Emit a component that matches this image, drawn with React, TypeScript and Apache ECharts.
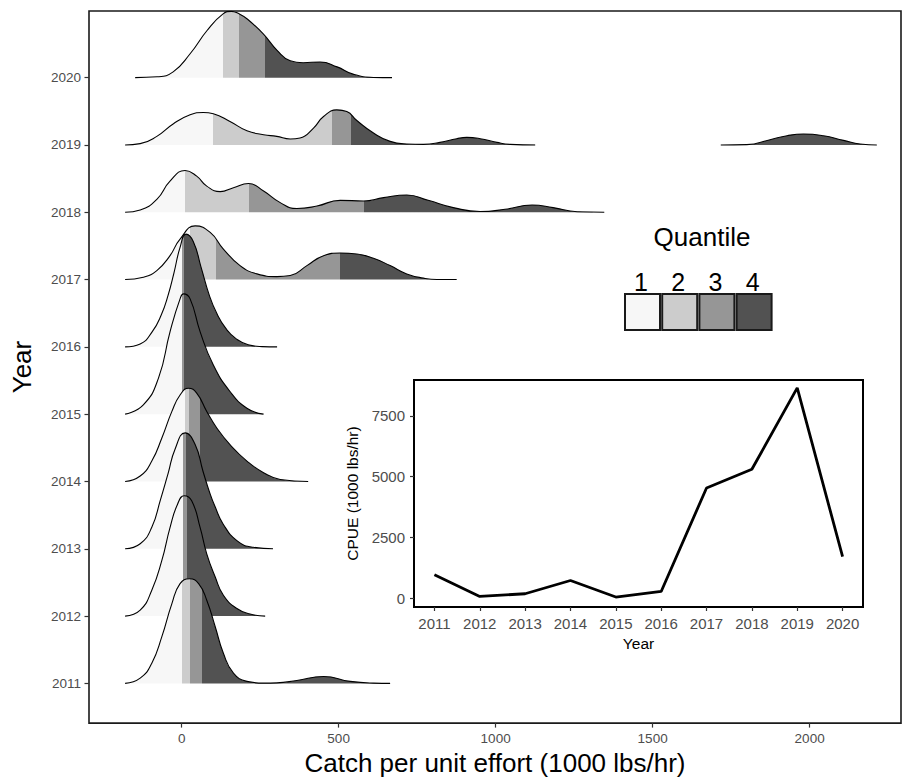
import React, { useEffect, useRef } from 'react';
import * as echarts from 'echarts';

// ---------- data ----------
const years = [2011, 2012, 2013, 2014, 2015, 2016, 2017, 2018, 2019, 2020];
const xTickValues = [0, 500, 1000, 1500, 2000];
const insetYTickValues = [0, 2500, 5000, 7500];
const quantileLabels = ['1', '2', '3', '4'];
const cpueByYear = [955, 65, 175, 720, 40, 270, 4530, 5300, 8650, 1700];

// ridge densities: [CPUE, density height in ridge-row units]
const density2011 = [[-180, 0], [-132, 0.078], [-95, 0.3], [-63, 0.694], [-31, 1.186], [-5, 1.482], [25, 1.555], [54, 1.482], [80, 1.236], [107, 0.842], [133, 0.448], [165, 0.152], [208, 0.03], [261, 0.004], [303, 0.007], [367, 0.044], [452, 0.103], [537, 0.03], [611, 0.004], [664, 0]];
const density2012 = [[-180, 0], [-132, 0.089], [-95, 0.384], [-63, 0.827], [-37, 1.315], [-13, 1.663], [8, 1.787], [32, 1.713], [59, 1.315], [80, 0.925], [107, 0.58], [133, 0.31], [176, 0.112], [218, 0.03], [266, 0]];
const density2013 = [[-180, 0], [-132, 0.074], [-95, 0.319], [-68, 0.72], [-43, 1.12], [-21, 1.48], [11, 1.722], [43, 1.55], [68, 1.152], [91, 0.812], [107, 0.62], [132, 0.369], [177, 0.118], [228, 0.022], [291, 0]];
const density2014 = [[-180, 0], [-132, 0.081], [-95, 0.303], [-63, 0.647], [-31, 1.041], [-5, 1.285], [22, 1.386], [48, 1.312], [80, 1.041], [112, 0.795], [154, 0.547], [208, 0.303], [261, 0.13], [314, 0.03], [403, 0]];
const density2015 = [[-180, 0], [-122, 0.139], [-74, 0.532], [-37, 1.223], [-5, 1.713], [6, 1.787], [27, 1.713], [59, 1.223], [101, 0.73], [154, 0.337], [208, 0.089], [261, 0]];
const density2016 = [[-180, 0], [-132, 0.044], [-94, 0.222], [-65, 0.473], [-43, 0.768], [-24, 1.108], [-5, 1.477], [14, 1.675], [37, 1.566], [62, 1.182], [88, 0.768], [113, 0.487], [142, 0.266], [174, 0.118], [212, 0.03], [256, 0.004], [304, 0]];
const density2017 = [[-180, 0], [-122, 0.035], [-79, 0.133], [-37, 0.355], [-5, 0.601], [43, 0.798], [91, 0.7], [133, 0.453], [186, 0.207], [240, 0.084], [303, 0.044], [346, 0.059], [399, 0.207], [452, 0.355], [505, 0.394], [558, 0.38], [611, 0.316], [664, 0.207], [717, 0.084], [770, 0.021], [813, 0], [876, 0]];
const density2018 = [[-180, 0], [-132, 0.034], [-79, 0.192], [-37, 0.462], [11, 0.62], [48, 0.536], [80, 0.388], [123, 0.306], [165, 0.365], [213, 0.428], [261, 0.315], [314, 0.143], [367, 0.055], [431, 0.093], [505, 0.177], [579, 0.167], [643, 0.217], [717, 0.256], [785, 0.177], [865, 0.069], [951, 0.01], [1030, 0.044], [1116, 0.108], [1183, 0.069], [1260, 0.007], [1346, 0]];
const density2019 = [[-180, 0], [-132, 0.019], [-79, 0.127], [-26, 0.315], [27, 0.448], [69, 0.482], [101, 0.462], [154, 0.349], [208, 0.211], [261, 0.152], [303, 0.127], [346, 0.089], [377, 0.103], [420, 0.251], [452, 0.422], [494, 0.521], [526, 0.496], [558, 0.363], [611, 0.177], [664, 0.053], [717, 0.015], [770, 0.009], [823, 0.038], [876, 0.093], [908, 0.112], [951, 0.093], [1004, 0.038], [1046, 0.009], [1126, 0]];
const density2019Tail = [[1717, 0], [1800, 0.004], [1874, 0.078], [1928, 0.137], [1980, 0.162], [2044, 0.137], [2108, 0.068], [2161, 0.015], [2214, 0]];
const density2020 = [[-148, 0], [-78, 0.012], [-27, 0.086], [27, 0.355], [81, 0.7], [132, 0.948], [158, 0.985], [183, 0.948], [209, 0.871], [260, 0.65], [304, 0.406], [346, 0.251], [387, 0.222], [441, 0.233], [495, 0.16], [546, 0.052], [611, 0.003], [670, 0]];

// quantile breaks (CPUE) per year: Q1|Q2, Q2|Q3, Q3|Q4
const breaks2011 = [2, 27, 64];
const breaks2012 = [3, 4, 17];
const breaks2013 = [3, 4, 14];
const breaks2014 = [11, 25, 57];
const breaks2015 = [1, 2, 6];
const breaks2016 = [1, 2, 6];
const breaks2017 = [27, 110, 503];
const breaks2018 = [11, 213, 582];
const breaks2019 = [101, 480, 540];
const breaks2020 = [133, 184, 264];

const ridgeSegments = [
  [density2011], [density2012], [density2013], [density2014], [density2015],
  [density2016], [density2017], [density2018], [density2019, density2019Tail], [density2020],
];
const ridgeBreaks = [breaks2011, breaks2012, breaks2013, breaks2014, breaks2015,
  breaks2016, breaks2017, breaks2018, breaks2019, breaks2020];

// ---------- styles ----------
const QCOLORS = ['#F7F7F7', '#CCCCCC', '#969696', '#525252'];
const FONT = 'Liberation Sans';
const TICK_GREY = '#4d4d4d';
const plain = (v: number) => String(v);

function buildOption() {
  const series: any[] = [];
  const visualMaps: any[] = [];
  for (let i = years.length - 1; i >= 0; i--) {
    const idxs: number[] = [];
    ridgeSegments[i].forEach((seg) => {
      idxs.push(series.length);
      series.push({
        type: 'line',
        name: String(years[i]),
        xAxisIndex: 0,
        yAxisIndex: 0,
        data: seg.map((p) => [p[0], i + p[1]]),
        smooth: 0.5,
        symbol: 'none',
        showSymbol: false,
        lineStyle: { color: '#000', width: 1.1 },
        areaStyle: { origin: i, opacity: 1 },
        silent: true,
        z: 2,
      });
    });
    const b = ridgeBreaks[i];
    visualMaps.push({
      type: 'piecewise',
      show: false,
      seriesIndex: idxs,
      dimension: 0,
      pieces: [
        { lt: b[0], color: QCOLORS[0] },
        { gte: b[0], lt: b[1], color: QCOLORS[1] },
        { gte: b[1], lt: b[2], color: QCOLORS[2] },
        { gte: b[2], color: QCOLORS[3] },
      ],
    });
  }

  series.push({
    type: 'line',
    xAxisIndex: 1,
    yAxisIndex: 1,
    data: years.map((y, i) => [y, cpueByYear[i]]),
    symbol: 'none',
    lineStyle: { color: '#000', width: 2.8 },
    silent: true,
    z: 10,
  });

  const rowIdx = years.map((_, i) => i);

  const graphic: any[] = [
    {
      type: 'text', x: 702, y: 237, z: 100,
      style: { text: 'Quantile', fontSize: 26, fontFamily: FONT, fill: '#000', align: 'center', verticalAlign: 'middle', textAlign: 'center', textVerticalAlign: 'middle' },
    },
  ];
  quantileLabels.forEach((lab, k) => {
    const bx = 625 + k * 37.2;
    graphic.push({
      type: 'rect', z: 100,
      shape: { x: bx, y: 294, width: 35, height: 36 },
      style: { fill: QCOLORS[k], stroke: '#1a1a1a', lineWidth: 2 },
    });
    graphic.push({
      type: 'text', x: bx + 16, y: 282, z: 100,
      style: { text: lab, fontSize: 25, fontFamily: FONT, fill: '#000', align: 'center', verticalAlign: 'middle', textAlign: 'center', textVerticalAlign: 'middle' },
    });
  });

  return {
    animation: false,
    backgroundColor: '#fff',
    textStyle: { fontFamily: FONT },
    grid: [
      { left: 89, top: 11, width: 812, height: 716, show: true, borderColor: '#1a1a1a', borderWidth: 1.6, backgroundColor: 'transparent' },
      { left: 414, top: 380, width: 449, height: 227, show: true, borderColor: '#000', borderWidth: 2, backgroundColor: '#fff' },
    ],
    xAxis: [
      {
        type: 'value', gridIndex: 0, min: -295, max: 2291,
        axisLine: { show: false, onZero: false },
        splitLine: { show: false },
        axisTick: { show: true, length: 4.5, lineStyle: { color: '#333', width: 1.2 }, customValues: xTickValues },
        axisLabel: { customValues: xTickValues, color: TICK_GREY, fontSize: 13.5, margin: 8, fontFamily: FONT, formatter: plain },
        name: 'Catch per unit effort (1000 lbs/hr)', nameLocation: 'middle', nameGap: 25,
        nameTextStyle: { fontSize: 26, color: '#000', fontFamily: FONT },
      },
      {
        type: 'value', gridIndex: 1, min: 2010.55, max: 2020.45,
        axisLine: { show: false, onZero: false },
        splitLine: { show: false },
        axisTick: { show: true, length: 4, lineStyle: { color: '#333', width: 1.2 }, customValues: years },
        axisLabel: { customValues: years, color: TICK_GREY, fontSize: 15, margin: 8.5, fontFamily: FONT, formatter: plain },
        name: 'Year', nameLocation: 'middle', nameGap: 28,
        nameTextStyle: { fontSize: 15.5, color: '#000', fontFamily: FONT },
      },
    ],
    yAxis: [
      {
        type: 'value', gridIndex: 0, min: -0.59, max: 9.99,
        axisLine: { show: false, onZero: false },
        splitLine: { show: false },
        axisTick: { show: true, length: 4.5, lineStyle: { color: '#333', width: 1.2 }, customValues: rowIdx },
        axisLabel: {
          customValues: rowIdx, color: TICK_GREY, fontSize: 13.5, margin: 8, fontFamily: FONT,
          formatter: (v: number) => String(years[Math.round(v)]),
        },
        name: 'Year', nameLocation: 'middle', nameGap: 54,
        nameTextStyle: { fontSize: 26, color: '#000', fontFamily: FONT },
      },
      {
        type: 'value', gridIndex: 1, min: -370, max: 8975,
        axisLine: { show: false, onZero: false },
        splitLine: { show: false },
        axisTick: { show: true, length: 4, lineStyle: { color: '#333', width: 1.2 }, customValues: insetYTickValues },
        axisLabel: { customValues: insetYTickValues, color: TICK_GREY, fontSize: 15, margin: 9, fontFamily: FONT, formatter: plain },
        name: 'CPUE (1000 lbs/hr)', nameLocation: 'middle', nameGap: 54,
        nameTextStyle: { fontSize: 15.5, color: '#000', fontFamily: FONT },
      },
    ],
    visualMap: visualMaps,
    series,
    graphic,
  };
}

export default function App() {
  const ref = useRef<HTMLDivElement>(null);
  useEffect(() => {
    if (!ref.current) return;
    const chart = echarts.init(ref.current, undefined, { renderer: 'svg' });
    chart.setOption(buildOption() as any);
    return () => chart.dispose();
  }, []);
  return (
    <div
      ref={ref}
      style={{ position: 'fixed', left: 0, top: 0, width: 903, height: 781, background: '#fff' }}
    />
  );
}
